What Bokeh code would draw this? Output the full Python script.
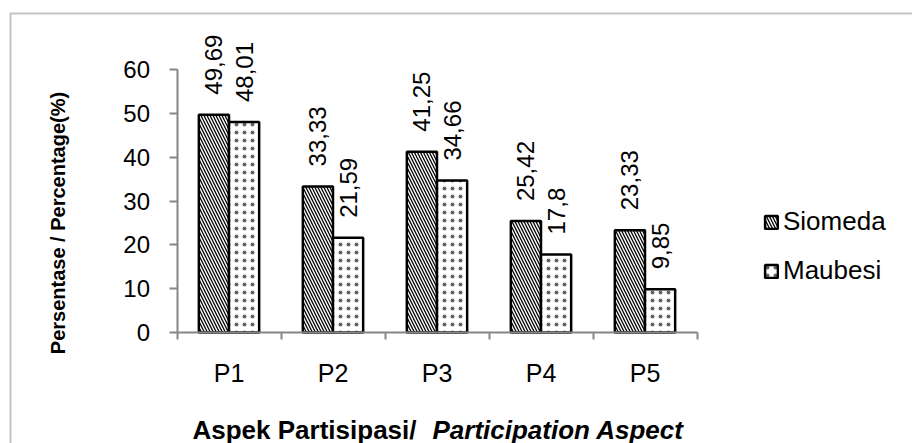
import math
from bokeh.plotting import figure
from bokeh.models import (Range1d, FixedTicker, Legend, LegendItem, Label,
                          BoxAnnotation, ColumnDataSource)
from bokeh.core.properties import value
from bokeh.embed import file_html
from bokeh.resources import INLINE

# ---- data ----
categories = ["P1", "P2", "P3", "P4", "P5"]
siomeda = [49.69, 33.33, 41.25, 25.42, 23.33]
maubesi = [48.01, 21.59, 34.66, 17.8, 9.85]
series_names = ["Siomeda", "Maubesi"]
y_ticks = [0, 10, 20, 30, 40, 50, 60]
y_title = "Persentase / Percentage(%)"
x_title_a = "Aspek Partisipasi/ "
x_title_b = "Participation Aspect"

FONT = "Liberation Sans"
W, H = 912, 443
FX0 = 176.5            # pixel x of the first category boundary
CAT = 104.0            # pixels per category
Y0 = 332.0             # pixel y of value 0
PPU = (332.0 - 69.0) / 60.0   # pixels per unit
bw = 0.29

p = figure(width=W, height=H, output_backend="svg", toolbar_location=None,
           x_range=Range1d(-FX0 / CAT, (W - FX0) / CAT),
           y_range=Range1d(-(H - Y0) / PPU, Y0 / PPU),
           min_border_left=0, min_border_right=0,
           min_border_top=0, min_border_bottom=0)
p.background_fill_color = "white"
p.border_fill_color = "white"
p.outline_line_color = None
p.grid.visible = False

centers = [i + 0.5 for i in range(len(categories))]
xs_s = [c - bw / 2 for c in centers]
xs_m = [c + bw / 2 for c in centers]

def fmt(v):
    return ("%g" % v).replace(".", ",")

src_s = ColumnDataSource(dict(x=xs_s, top=siomeda, lab=[fmt(v) for v in siomeda]))
src_m = ColumnDataSource(dict(x=xs_m, top=maubesi, lab=[fmt(v) for v in maubesi]))

r_s = p.vbar(x="x", top="top", bottom=0, width=bw, source=src_s,
             fill_color="white", line_color="black", line_width=2.5,
             hatch_pattern="left_diagonal_line", hatch_color="black",
             hatch_scale=6, hatch_weight=1.3)
r_m = p.vbar(x="x", top="top", bottom=0, width=bw, source=src_m,
             fill_color="white", line_color="black", line_width=2.5,
             hatch_pattern="dot", hatch_color="black", hatch_alpha=0.6,
             hatch_scale=8, hatch_weight=1.0)

for src in (src_s, src_m):
    p.text(x="x", y="top", text="lab", source=src, angle=math.pi / 2,
           text_align="left", text_baseline="middle", y_offset=-20,
           text_font=value(FONT), text_font_size="24px", text_color="black")

# axes, drawn at the origin inside the plotting area
ya = p.yaxis[0]
ya.fixed_location = 0
ya.ticker = FixedTicker(ticks=y_ticks)
ya.bounds = (0, 60)
ya.axis_line_color = "#868686"
ya.axis_line_width = 2
ya.major_tick_line_color = "#868686"
ya.major_tick_line_width = 2
ya.major_tick_out = 8
ya.major_tick_in = 0
ya.minor_tick_line_color = None
ya.major_label_standoff = 19
ya.major_label_text_font = FONT
ya.major_label_text_font_size = "24px"
ya.major_label_text_color = "black"

xa = p.xaxis[0]
xa.fixed_location = 0
xa.ticker = FixedTicker(ticks=centers, minor_ticks=list(range(len(categories) + 1)))
xa.major_label_overrides = {c: cat for c, cat in zip(centers, categories)}
xa.bounds = (0, len(categories))
xa.axis_line_color = "#868686"
xa.axis_line_width = 2
xa.major_tick_line_color = None
xa.major_tick_out = 7
xa.major_tick_in = 0
xa.minor_tick_line_color = "#868686"
xa.minor_tick_line_width = 2
xa.minor_tick_out = 7
xa.minor_tick_in = 0
xa.major_label_standoff = 19
xa.major_label_text_font = FONT
xa.major_label_text_font_size = "25px"
xa.major_label_text_color = "black"

# titles
p.add_layout(Label(x=57, y=H - 222.5, x_units="screen", y_units="screen",
                   text=y_title, angle=math.pi / 2, text_align="center",
                   text_baseline="middle", text_font=FONT, text_font_size="20px",
                   text_font_style="bold", text_color="black"))
p.add_layout(Label(x=192, y=H - 429, x_units="screen", y_units="screen",
                   text=x_title_a, text_align="left", text_baseline="middle",
                   text_font=FONT, text_font_size="26px", text_font_style="bold",
                   text_color="black"))
p.add_layout(Label(x=432, y=H - 429, x_units="screen", y_units="screen",
                   text=x_title_b, text_align="left", text_baseline="middle",
                   text_font=FONT, text_font_size="26px", text_font_style="bold italic",
                   text_color="black"))

# outer chart border
p.add_layout(BoxAnnotation(left=10, right=W + 50, top=H - 13, bottom=-50,
                           left_units="screen", right_units="screen",
                           top_units="screen", bottom_units="screen",
                           fill_alpha=0, line_color="#404040", line_width=2))

legend = Legend(items=[LegendItem(label=series_names[0], renderers=[r_s]),
                       LegendItem(label=series_names[1], renderers=[r_m])],
                location=(763, H - 271 - 15), padding=0, margin=0, spacing=18,
                glyph_width=16, glyph_height=16, label_standoff=4,
                label_text_font=FONT, label_text_font_size="26px",
                label_text_color="black", border_line_color=None,
                background_fill_alpha=0)
p.add_layout(legend)

open("out.html", "w").write(file_html(p, INLINE))
